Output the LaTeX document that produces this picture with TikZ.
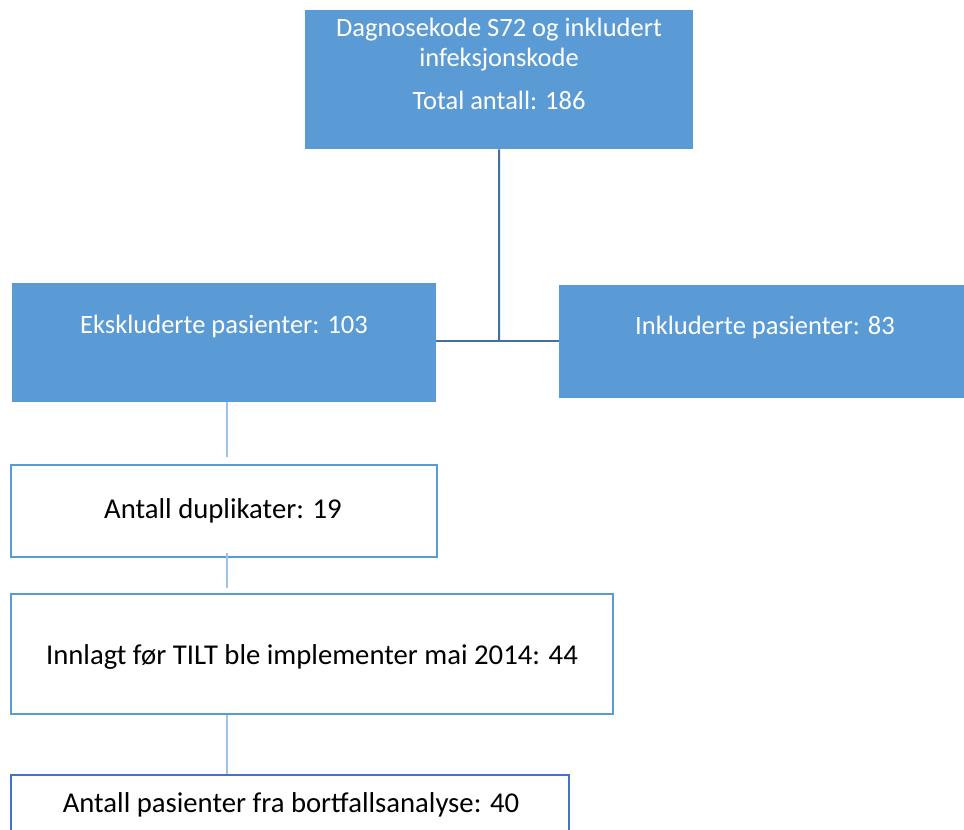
\documentclass[tikz,border=0pt]{standalone}
\usepackage{fontspec}
\setmainfont{Carlito}
\definecolor{bfill}{HTML}{5B9BD5}
\definecolor{bline}{HTML}{41719C}
\definecolor{lline}{HTML}{9DC3E6}
\definecolor{wline}{HTML}{5B9BD5}
\definecolor{dline}{HTML}{4472C4}
\begin{document}
\begin{tikzpicture}[x=1pt,y=-1pt,
  bluebox/.style={fill=bfill, draw=none, inner sep=0pt, anchor=north west},
  whitebox/.style={fill=white, draw=wline, line width=1.5pt, inner sep=0pt, anchor=north west},
  wtext/.style={text=white, font=\fontsize{26.5}{30}\selectfont, inner sep=0pt},
  btext/.style={text=black, font=\fontsize{28.7}{32}\selectfont, inner sep=0pt},
  mainconn/.style={draw=bline, line width=2pt},
  subconn/.style={draw=lline, line width=1.5pt}]
\useasboundingbox (0,0) rectangle (964,830);
\clip (0,0) rectangle (964,830);
% boxes
\node[bluebox, minimum width=388pt, minimum height=139pt] (top) at (305,10) {};
\node[bluebox, minimum width=424pt, minimum height=119pt] (left) at (12,283) {};
\node[bluebox, minimum width=410pt, minimum height=113pt] (right) at (559,285) {};
\node[whitebox, minimum width=426pt, minimum height=92pt] (b1) at (10,464) {};
\node[whitebox, minimum width=602pt, minimum height=120pt] (b2) at (10,593) {};
\node[whitebox, draw=dline, minimum width=558pt, minimum height=90pt] (b3) at (10,774) {};
% texts
\node[wtext] (t1) at (499,30) {Dagnosekode S72 og inkludert};
\node[wtext] (t2) at (499,60) {infeksjonskode};
\node[wtext] (t3) at (499,100) {Total antall: 186};
\node[wtext] (tl) at (224,326) {Ekskluderte pasienter: 103};
\node[wtext] (tr) at (765,327) {Inkluderte pasienter: 83};
\node[btext] (tb1) at (223,511) {Antall duplikater: 19};
\node[btext] (tb2) at (312,657) {Innlagt før TILT ble implementer mai 2014: 44};
\node[btext] (tb3) at (291,805) {Antall pasienter fra bortfallsanalyse: 40};
% connectors
\coordinate (j) at (499,341);
\draw[mainconn] (top.south) -- (j);
\draw[mainconn] (left.east |- j) -- (right.west |- j);
\coordinate (e1) at (227,457);
\coordinate (s2) at (227,553);
\coordinate (e2) at (227,588);
\coordinate (e3) at (227,774);
\draw[subconn] (left.south -| e1) -- (e1);
\draw[subconn] (s2) -- (e2);
\draw[subconn] (b2.south -| e3) -- (e3);
\end{tikzpicture}
\end{document}
